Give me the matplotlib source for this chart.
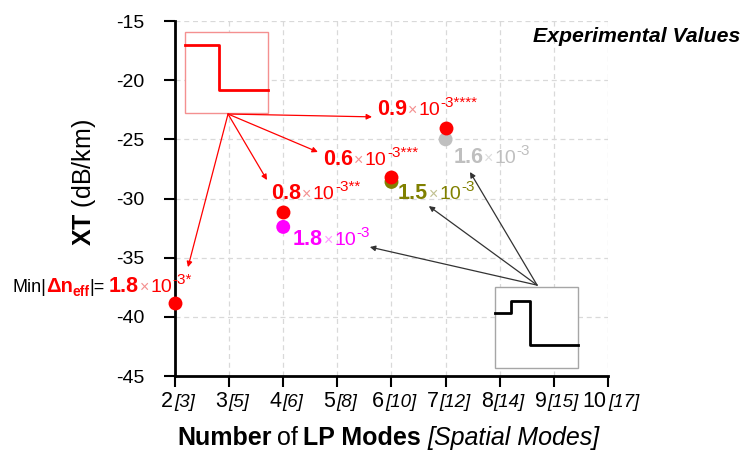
import matplotlib
matplotlib.use('Agg')
import matplotlib.pyplot as plt
import matplotlib.transforms as mtransforms
from matplotlib.patches import Rectangle

plt.rcParams['font.family'] = ['Liberation Sans', 'DejaVu Sans']
plt.rcParams['axes.unicode_minus'] = False
plt.rcParams['mathtext.fontset'] = 'custom'
plt.rcParams['mathtext.rm'] = 'Liberation Sans'
plt.rcParams['mathtext.bf'] = 'Liberation Sans:bold'
plt.rcParams['mathtext.it'] = 'Liberation Sans:italic'

# ejes
lp_modes = [2, 3, 4, 5, 6, 7, 8, 9, 10]
spatial_modes = [3, 5, 6, 8, 10, 12, 14, 15, 17]
xt_ticks = [-45, -40, -35, -30, -25, -20, -15]

# fibras con el menor |dneff| (rojo)
x_min = [2, 4, 6, 7]
xt_min = [-38.8, -31.1, -28.2, -24.0]
dneff_min = ['1.8', '0.8', '0.6', '0.9']
stars_min = ['*', '**', '***', '****']

# fibras de comparacion
x_alt = [4, 6, 7]
xt_alt = [-32.4, -28.6, -25.0]
dneff_alt = ['1.8', '1.5', '1.6']
colors_alt = ['#ff00ff', '#808000', '#bfbfbf']
light_alt = ['#ff99ff', '#c0c090', '#dddddd']

RED = '#ff0000'
RED_LIGHT = '#f49090'

fig = plt.figure(figsize=(7.43, 4.54), dpi=100)
ax = fig.add_axes([0.2355, 0.1718, 0.5828, 0.7819])
ax.set_xlim(2, 10)
ax.set_ylim(-45, -15)
ax.set_xticks(lp_modes)
ax.set_xticklabels([])
ax.set_yticks(xt_ticks)
ax.set_yticklabels([str(v) for v in xt_ticks])
ax.tick_params(axis='y', labelsize=14, length=8, width=1.5, pad=14, direction='out')
ax.tick_params(axis='x', length=8, width=1.5, direction='out')
for s in ['top', 'right']:
    ax.spines[s].set_visible(False)
for s in ['left', 'bottom']:
    ax.spines[s].set_linewidth(2)
ax.grid(True, color='#d9d9d9', linestyle=(0, (4, 3)), linewidth=0.9)
ax.set_axisbelow(True)

renderer = fig.canvas.get_renderer()


def rich_text(x, y, pieces, transform, ha='left'):
    # texto con varios estilos, colocado pieza a pieza sobre la linea base
    texts = []
    widths = []
    for s, kw in pieces:
        kw = dict(kw)
        rise = kw.pop('rise', 0)
        gap = kw.pop('gap', 0)
        t = ax.text(x, y, s, transform=transform, va='baseline', ha='left', **kw)
        texts.append((t, rise, gap))
        widths.append(t.get_window_extent(renderer=renderer).width + gap)
    total = sum(widths)
    dx = {'left': 0, 'center': -total / 2, 'right': -total}[ha]
    for (t, rise, gap), w in zip(texts, widths):
        t.set_transform(mtransforms.offset_copy(transform, fig=fig, x=dx + gap, y=rise, units='dots'))
        dx += w


def dneff_pieces(val, stars, color, light):
    return [(val, dict(color=color, fontsize=15.5, fontweight='bold')),
            ('×', dict(color=light, fontsize=11.5, gap=1)),
            ('10', dict(color=color, fontsize=14, gap=1)),
            ('-3' + stars, dict(color=color, fontsize=11, rise=8, gap=0.5))]


# etiquetas del eje x: modos LP [modos espaciales]
xtick_tr = mtransforms.blended_transform_factory(ax.transData, ax.transAxes)
for lp, sp in zip(lp_modes, spatial_modes):
    tr = mtransforms.offset_copy(xtick_tr, fig=fig, x=3, y=0, units='dots')
    rich_text(lp, -0.087, [(str(lp), dict(fontsize=15.5)),
                           ('[%d]' % sp, dict(fontsize=13.5, style='italic', gap=1))], tr, ha='center')

# titulo eje x
rich_text(0.494, -0.194, [('Number', dict(fontsize=18, fontweight='bold')),
                          ('of', dict(fontsize=18, gap=5)),
                          ('LP Modes', dict(fontsize=18, fontweight='bold', gap=5)),
                          ('[Spatial Modes]', dict(fontsize=18, style='italic', gap=7))],
          ax.transAxes, ha='center')

ax.text(-0.21, 0.544, r'$\mathbf{XT}$ (dB/km)', transform=ax.transAxes, rotation=90,
        ha='center', va='center', fontsize=18)

fig.text(0.996, 0.9075, 'Experimental Values', ha='right', va='baseline',
         fontsize=15.3, fontweight='bold', style='italic')

# puntos
ax.scatter(x_min, xt_min, s=100, color=RED, zorder=4, clip_on=False, linewidths=0)
ax.scatter(x_alt, xt_alt, s=100, color=colors_alt, zorder=3, clip_on=False, linewidths=0)

# recuadros con el perfil de indice
ax.add_patch(Rectangle((2.185, -22.78), 1.535, 6.85, facecolor='white',
                       edgecolor=RED_LIGHT, linewidth=1, zorder=2))
ax.plot([2.185, 2.81, 2.81, 3.72], [-17.03, -17.03, -20.83, -20.83], color=RED, lw=2, zorder=3)
ax.add_patch(Rectangle((7.915, -44.33), 1.535, 6.84, facecolor='white',
                       edgecolor='#a6a6a6', linewidth=1, zorder=2))
ax.plot([7.915, 8.21, 8.21, 8.56, 8.56, 9.45], [-39.68, -39.68, -38.67, -38.67, -42.39, -42.39],
        color='black', lw=2, zorder=3)

# flechas rojas (menor |dneff|)
red_src = (2.98, -22.86)
red_tips = [(2.24, -35.8), (3.70, -28.44), (4.64, -26.07), (5.64, -23.1)]
red_label_pos = [None, (3.78, -30.05), (4.74, -27.17), (5.73, -22.95)]
for tip in red_tips:
    ax.annotate('', xy=tip, xytext=red_src, annotation_clip=False,
                arrowprops=dict(arrowstyle='-|>', color=RED, lw=0.9, mutation_scale=8, shrinkA=0, shrinkB=0))

for i in range(1, len(x_min)):
    rich_text(red_label_pos[i][0], red_label_pos[i][1],
              dneff_pieces(dneff_min[i], stars_min[i], RED, RED_LIGHT), ax.transData)

rich_text(-1.01, -37.9, [('Min|', dict(fontsize=13, color='black')),
                         ('Δn', dict(fontsize=14.5, color=RED, fontweight='bold')),
                         ('eff', dict(fontsize=10, color=RED, fontweight='bold', rise=-4)),
                         ('|=', dict(fontsize=13, color='black')),
                         ] + [(p[0], dict(p[1], gap=p[1].get('gap', 0) + (4 if k == 0 else 0)))
                              for k, p in enumerate(dneff_pieces(dneff_min[0], stars_min[0], RED, RED_LIGHT))],
          ax.transData)

# flechas negras (fibras de comparacion)
blk_src = (8.69, -37.32)
blk_tips = [(5.60, -34.1), (6.69, -30.64), (7.45, -27.76)]
alt_label_pos = [(4.18, -33.9), (6.12, -30.05), (7.14, -27.0)]
for tip in blk_tips:
    ax.annotate('', xy=tip, xytext=blk_src, annotation_clip=False,
                arrowprops=dict(arrowstyle='-|>', color='#333333', lw=0.9, mutation_scale=8, shrinkA=0, shrinkB=0))
for i in range(len(x_alt)):
    rich_text(alt_label_pos[i][0], alt_label_pos[i][1],
              dneff_pieces(dneff_alt[i], '', colors_alt[i], light_alt[i]), ax.transData)

fig.savefig('out.png', dpi=100)
